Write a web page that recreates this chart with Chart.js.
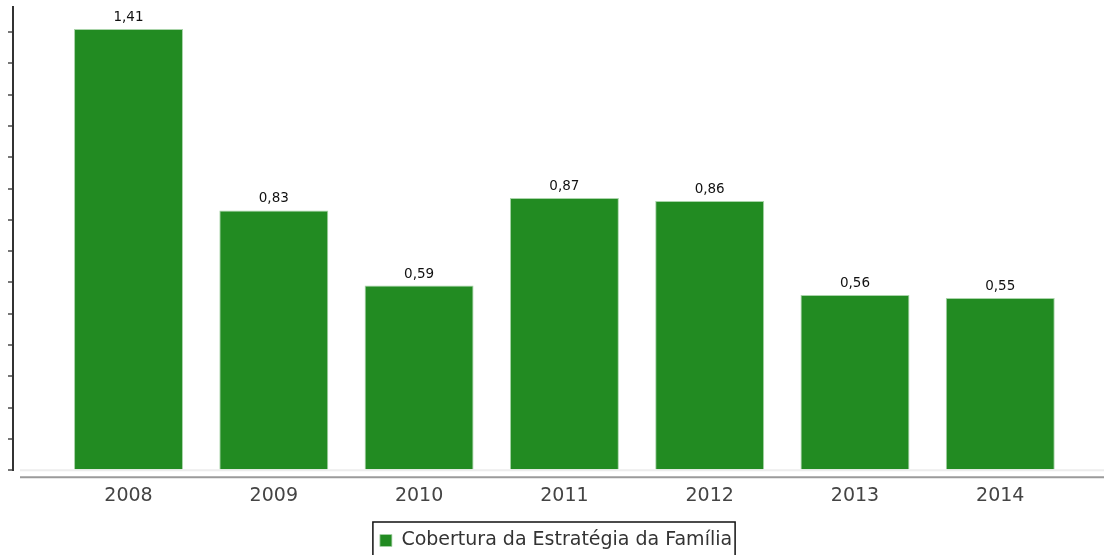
<!DOCTYPE html>
<html lang="pt">
<head>
<meta charset="utf-8">
<title>Cobertura da Estratégia da Família</title>
<script src="https://cdn.jsdelivr.net/npm/chart.js@4.4.1/dist/chart.umd.min.js"></script>
<style>
  html, body { margin: 0; padding: 0; background: #fff; }
  #grafico-wrap { width: 1104px; height: 555px; position: relative; }
</style>
</head>
<body>
<div id="grafico-wrap"><canvas id="grafico-cobertura"></canvas></div>
<script>
// Dados da série
const anos = ['2008', '2009', '2010', '2011', '2012', '2013', '2014'];
const cobertura = [1.41, 0.83, 0.59, 0.87, 0.86, 0.56, 0.55];
const nomeSerie = 'Cobertura da Estratégia da Família';

const verde = '#228b22';
const fonte = '"DejaVu Sans", Verdana, sans-serif';

// Formata número com vírgula decimal
function fmt(v) {
    return v.toFixed(2).replace('.', ',');
}

// Rótulos de valor acima de cada barra
const rotulosValor = {
    id: 'rotulosValor',
    afterDatasetsDraw(chart) {
        const ctx = chart.ctx;
        const meta = chart.getDatasetMeta(0);
        ctx.save();
        ctx.font = '13.5px ' + fonte;
        ctx.fillStyle = '#111';
        ctx.textAlign = 'center';
        ctx.textBaseline = 'alphabetic';
        meta.data.forEach((bar, i) => {
            ctx.fillText(fmt(cobertura[i]), bar.x, bar.y - 8);
        });
        ctx.restore();
    }
};

// Linha cinza do eixo X (deslocada abaixo da base) e linha clara da base
const linhasBase = {
    id: 'linhasBase',
    beforeDatasetsDraw(chart) {
        const { ctx, chartArea } = chart;
        ctx.save();
        ctx.strokeStyle = '#ececec';
        ctx.lineWidth = 2;
        ctx.beginPath();
        ctx.moveTo(chartArea.left + 7, chartArea.bottom);
        ctx.lineTo(chart.width, chartArea.bottom);
        ctx.stroke();
        ctx.strokeStyle = '#9a9a9a';
        ctx.lineWidth = 2;
        ctx.beginPath();
        ctx.moveTo(chartArea.left + 7, chartArea.bottom + 7);
        ctx.lineTo(chart.width, chartArea.bottom + 7);
        ctx.stroke();
        ctx.restore();
    }
};

// Moldura em volta da legenda
const molduraLegenda = {
    id: 'molduraLegenda',
    afterDraw(chart) {
        const box = chart.legend && chart.legend.legendHitBoxes[0];
        if (!box) return;
        const ctx = chart.ctx;
        ctx.save();
        ctx.strokeStyle = '#111';
        ctx.lineWidth = 1.5;
        ctx.strokeRect(box.left - 7, box.top - 9, box.width + 10, box.height + 30);
        ctx.restore();
    }
};

const ctx = document.getElementById('grafico-cobertura').getContext('2d');
new Chart(ctx, {
    type: 'bar',
    data: {
        datasets: [{
            label: nomeSerie,
            data: cobertura.map((v, i) => ({ x: i, y: v })),
            backgroundColor: verde,
            borderColor: '#a9d4a9',
            borderWidth: { left: 1, right: 1, top: 1, bottom: 0 },
            borderSkipped: 'bottom',
            barPercentage: 0.75,
            categoryPercentage: 1
        }]
    },
    options: {
        responsive: true,
        maintainAspectRatio: false,
        animation: false,
        layout: { padding: { left: 8, top: 7, right: 0, bottom: -5 } },
        plugins: {
            legend: {
                position: 'bottom',
                labels: {
                    font: { family: fonte, size: 19 },
                    color: '#333',
                    boxWidth: 12,
                    boxHeight: 12,
                    padding: 10
                }
            },
            tooltip: { enabled: false }
        },
        scales: {
            x: {
                type: 'linear',
                offset: false,
                min: -0.795,
                max: 6.714,
                afterBuildTicks: scale => {
                    scale.ticks = anos.map((a, i) => ({ value: i }));
                },
                ticks: {
                    callback: v => anos[v],
                    font: { family: fonte, size: 19 },
                    color: '#444',
                    padding: 14,
                    maxRotation: 0,
                    autoSkip: false
                },
                grid: { display: false, drawTicks: false },
                border: { display: false }
            },
            y: {
                min: 0,
                max: 1.48,
                ticks: { display: false, stepSize: 0.1, includeBounds: false },
                grid: {
                    drawOnChartArea: false,
                    tickLength: 5,
                    color: '#777',
                    lineWidth: 2
                },
                border: { color: '#333', width: 2 }
            }
        }
    },
    plugins: [linhasBase, rotulosValor, molduraLegenda]
});
</script>
</body>
</html>
